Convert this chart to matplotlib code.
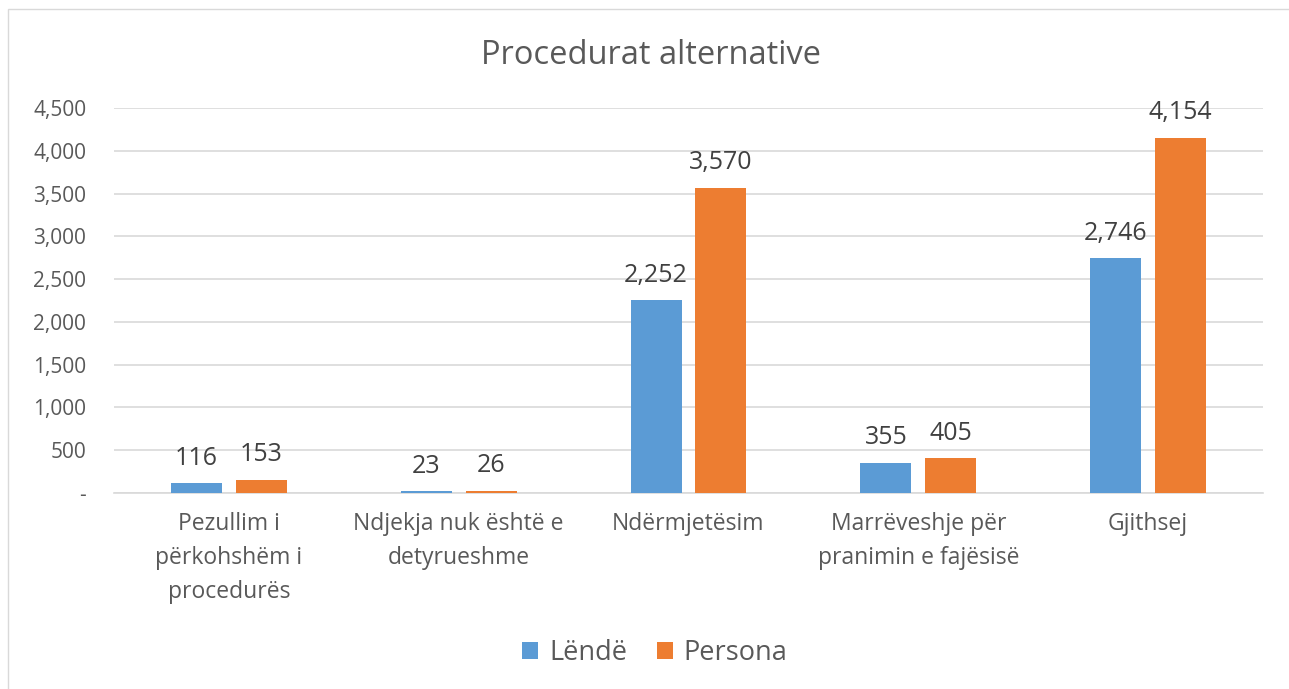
import matplotlib.pyplot as plt
import numpy as np
from matplotlib.patches import Rectangle
from matplotlib.ticker import FuncFormatter

categories = ['Pezullim i\npërkohshëm i\nprocedurës', 'Ndjekja nuk është e\ndetyrueshme',
              'Ndërmjetësim', 'Marrëveshje për\npranimin e fajësisë', 'Gjithsej']
lende = [116, 23, 2252, 355, 2746]
persona = [153, 26, 3570, 405, 4154]
series_names = ['Lëndë', 'Persona']

plt.rcParams['font.family'] = ['Open Sans', 'DejaVu Sans']
text_col = '#595959'
blue = '#5B9BD5'
orange = '#ED7D31'
grid_col = '#D9D9D9'

fig = plt.figure(figsize=(12.89, 6.89), dpi=100)
# chart frame
fig.patches.append(Rectangle((8 / 1289, -0.1), 1.2, 1 - 9 / 689 + 0.1, transform=fig.transFigure,
                             fill=False, edgecolor=grid_col, linewidth=1))

ax = fig.add_axes([114 / 1289, 1 - 493 / 689, (1263 - 114) / 1289, (493 - 108) / 689])
x = np.arange(len(categories))
w = 0.222
gap = 0.06
b1 = ax.bar(x - (w + gap) / 2, lende, w, color=blue, label=series_names[0], zorder=3)
b2 = ax.bar(x + (w + gap) / 2, persona, w, color=orange, label=series_names[1], zorder=3)

for bars in (b1, b2):
    for r in bars:
        ax.annotate(f'{int(r.get_height()):,}', (r.get_x() + r.get_width() / 2, r.get_height()),
                    xytext=(0, 9), textcoords='offset points', ha='center', va='bottom',
                    fontsize=18, color='#404040')

ax.set_ylim(0, 4500)
ax.set_xlim(-0.5, len(categories) - 0.5)
ax.set_yticks(range(0, 4501, 500))
ax.yaxis.set_major_formatter(FuncFormatter(lambda v, p: '-' if v == 0 else f'{int(v):,}'))
ax.yaxis.grid(True, color=grid_col, linewidth=1.2, zorder=0)
ax.set_xticks(x)
ax.set_xticklabels(categories, fontsize=16.5, color=text_col, linespacing=1.55)
ax.tick_params(axis='y', length=0, pad=20, labelsize=15, labelcolor=text_col)
ax.tick_params(axis='x', length=0, pad=14)
for s in ['top', 'right', 'left']:
    ax.spines[s].set_visible(False)
ax.spines['bottom'].set_color(grid_col)
ax.spines['bottom'].set_linewidth(1.2)

fig.text(0.505, 1 - 55 / 689, 'Procedurat alternative', ha='center', va='center',
         fontsize=23.5, color=text_col)
fig.legend(loc='center', bbox_to_anchor=(0.508, 1 - 653 / 689), ncol=2, frameon=False,
           fontsize=19.5, handlelength=0.6, handleheight=0.6, handletextpad=0.4,
           columnspacing=1.1, labelcolor=text_col)

fig.savefig('out.png', dpi=100, facecolor='white')
